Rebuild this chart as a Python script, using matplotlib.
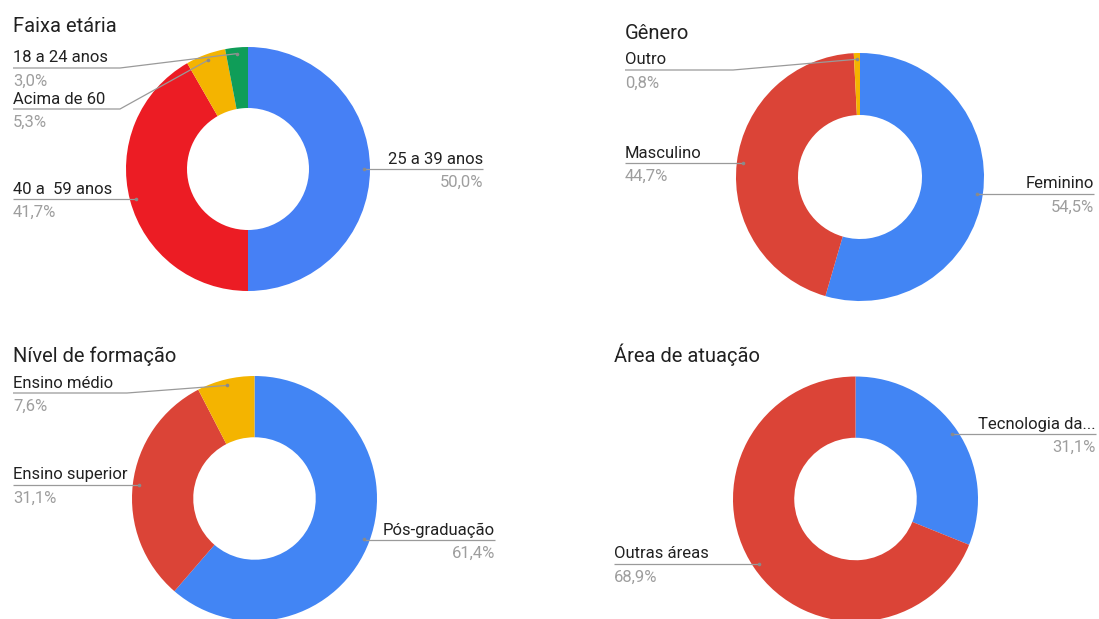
import numpy as np
import matplotlib.pyplot as plt

# survey breakdowns (percent)
age_labels = ["25 a 39 anos", "40 a  59 anos", "Acima de 60", "18 a 24 anos"]
age_values = [50.0, 41.7, 5.3, 3.0]

gender_labels = ["Feminino", "Masculino", "Outro"]
gender_values = [54.5, 44.7, 0.8]

edu_labels = ["Pós-graduação", "Ensino superior", "Ensino médio"]
edu_values = [61.4, 31.1, 7.6]

area_labels = ["Tecnologia da...", "Outras áreas"]
area_values = [31.1, 68.9]

W, H = 1099, 619
BLUE = "#4285F4"
RED = "#DB4437"
YELLOW = "#F4B400"
GREEN = "#0F9D58"

TEXT = "#212121"
MUTED = "#9E9E9E"
LEADER = "#9A9A9A"
FONT = "Roboto"

plt.rcParams["font.family"] = [FONT, "DejaVu Sans"]

# panel layout in pixels: title, donut centre/radius, and per-slice label anchor
# label spec: (side, anchor x, leader y, elbow x or None)
panels = [
    dict(title="Faixa etária", title_xy=(13, 32), center=(248, 169), radius=122,
         labels=age_labels, values=age_values,
         colors=["#4680F5", "#EC1C24", YELLOW, GREEN],
         spec=[("right", 483, 169, None), ("left", 13, 199, None),
               ("left", 13, 109, 120), ("left", 13, 68, 120)]),
    dict(title="Gênero", title_xy=(625, 39), center=(860, 177), radius=124,
         labels=gender_labels, values=gender_values,
         colors=[BLUE, RED, YELLOW],
         spec=[("right", 1094, 194, None), ("left", 625, 163, None),
               ("left", 625, 70, 733)]),
    dict(title="Nível de formação", title_xy=(13, 362), center=(254.5, 498.5), radius=122.5,
         labels=edu_labels, values=edu_values,
         colors=[BLUE, RED, YELLOW],
         spec=[("right", 495, 540, None), ("left", 13, 485, None),
               ("left", 13, 393, 127)]),
    dict(title="Área de atuação", title_xy=(614, 362), center=(855.5, 499), radius=122.5,
         labels=area_labels, values=area_values,
         colors=[BLUE, RED],
         spec=[("right", 1096, 434, None), ("left", 614, 564, None)]),
]


def pct(v):
    return f"{v:.1f}%".replace(".", ",")


fig = plt.figure(figsize=(W / 100, H / 100), dpi=100)
fig.patch.set_facecolor("white")
ax = fig.add_axes([0, 0, 1, 1])

for p in panels:
    cx, cy = p["center"]
    r = p["radius"]
    vals = np.array(p["values"], dtype=float)

    # y axis runs downward, so a counter-clockwise pie from -90 reads clockwise from the top
    ax.pie(vals, radius=r, center=(cx, cy), startangle=-90, counterclock=True,
           colors=p["colors"], wedgeprops=dict(width=r * 0.5, linewidth=0),
           normalize=True, frame=True)

    ax.text(*p["title_xy"], p["title"], fontsize=14.5, color=TEXT,
            ha="left", va="baseline")

    frac = vals / vals.sum()
    mids = np.cumsum(frac) - frac / 2
    for lab, v, m, (side, ax_x, ly, elbow) in zip(p["labels"], vals, mids, p["spec"]):
        ang = 2 * np.pi * m
        dx = cx + 0.95 * r * np.sin(ang)
        dy = cy - 0.95 * r * np.cos(ang)
        ex = dx if elbow is None else elbow
        ax.plot([ax_x, ex, dx], [ly, ly, dy], color=LEADER, lw=0.9,
                solid_capstyle="butt", zorder=3)
        ax.plot(dx, dy, "o", ms=2.6, color="#8A8A8A", mec="none", zorder=4)
        ha = "left" if side == "left" else "right"
        ax.text(ax_x, ly - 5.5, lab, fontsize=12, color=TEXT, ha=ha, va="baseline")
        ax.text(ax_x, ly + 17.5, pct(v), fontsize=12, color=MUTED, ha=ha, va="baseline")

ax.set_xlim(0, W)
ax.set_ylim(H, 0)
ax.set_aspect("auto")
ax.axis("off")

fig.savefig("out.png", dpi=100)
